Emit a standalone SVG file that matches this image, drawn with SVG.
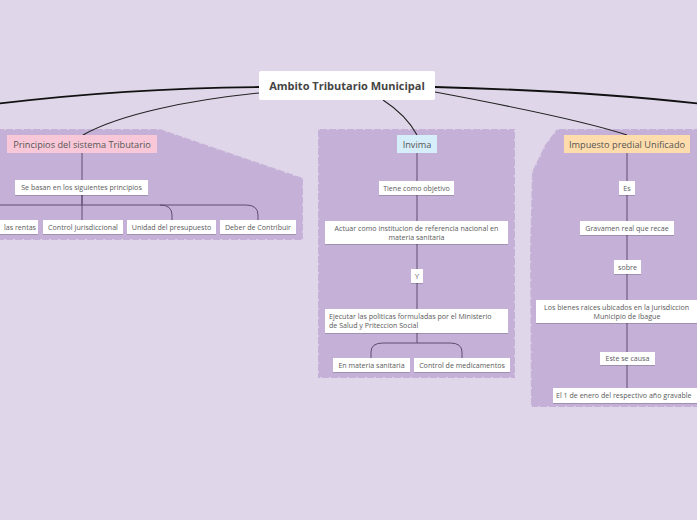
<svg xmlns="http://www.w3.org/2000/svg" width="697" height="520" viewBox="0 0 697 520">
<defs>
<filter id="sh" x="-10%" y="-20%" width="120%" height="150%"><feDropShadow dx="0" dy="1" stdDeviation="0.6" flood-color="#000" flood-opacity="0.18"/></filter>
</defs>
<style>
.region{fill:#c5b1d7;stroke:#ddd2e7;stroke-width:2;stroke-dasharray:2 7}
.box{fill:#ffffff;filter:url(#sh)}
.t{font-family:"Open Sans","Liberation Sans",sans-serif;font-size:7.1px;fill:#5a5a5a}
.tm{font-family:"Open Sans","Liberation Sans",sans-serif;font-size:9.2px;fill:#555}
.main{fill:none;stroke:#111;stroke-width:1.8}
.sub{fill:none;stroke:#222;stroke-width:1.1}
.tree{fill:none;stroke:#5e4d6e;stroke-width:1}
</style>
<rect width="697" height="520" fill="#e0d6ea"/>
<g id="regions">
<path class="region" d="M-5,129 L160,129 L303,178 L303,240 L-5,240 Z"/>
<path class="region" d="M318,129 L515,129 L515,378 L318,378 Z"/>
<path class="region" d="M557,129 L702,129 L702,407 L531,407 L530,250 L532,172 L545,145 Z"/>
</g>
<g id="connectors">
<path class="main" d="M259,87 C150,88 60,96 -5,104"/>
<path class="main" d="M435,87 C550,90 640,97 702,104"/>
<path class="sub" d="M259,93 C190,100 120,114 83,135"/>
<path class="sub" d="M383,100 C400,111 410,122 417,135"/>
<path class="sub" d="M435,92 C510,106 585,121 627,135"/>
<path class="tree" d="M82,153 V220"/>
<path class="tree" d="M82,195 V205 H-10"/>
<path class="tree" d="M82,205 H160 Q172,205 172,215 V220"/>
<path class="tree" d="M160,205 H246 Q258,205 258,215 V220"/>
<path class="tree" d="M417,153 V343"/>
<path class="tree" d="M417,343 H383 Q371,343 371,352 V358"/>
<path class="tree" d="M417,343 H450 Q462,343 462,352 V358"/>
<path class="tree" d="M627,153 V389"/>
</g>
<g id="center">
<rect x="259" y="71" width="176" height="29" rx="2" fill="#fff"/>
<text x="347" y="90" text-anchor="middle" font-family="'Open Sans','Liberation Sans',sans-serif" font-size="11" font-weight="bold" fill="#444">Ambito Tributario Municipal</text>
</g>
<g id="principios">
<rect x="7" y="135" width="150" height="18" fill="#f8c8d8"/>
<text class="tm" x="82" y="147.5" text-anchor="middle">Principios del sistema Tributario</text>
</g>
<g id="se-basan">
<rect class="box" x="15" y="180" width="133" height="15"/>
<text class="t" x="81.5" y="190" text-anchor="middle">Se basan en los siguientes principios</text>
</g>
<g id="rentas">
<rect class="box" x="-20" y="220" width="58" height="14"/>
<text class="t" x="36" y="229.5" text-anchor="end">las rentas</text>
</g>
<g id="control-jurisdiccional">
<rect class="box" x="43" y="220" width="80" height="14"/>
<text class="t" x="83" y="229.5" text-anchor="middle">Control Jurisdiccional</text>
</g>
<g id="unidad">
<rect class="box" x="127" y="220" width="89" height="14"/>
<text class="t" x="171.5" y="229.5" text-anchor="middle">Unidad del presupuesto</text>
</g>
<g id="deber">
<rect class="box" x="220" y="220" width="76" height="14"/>
<text class="t" x="258" y="229.5" text-anchor="middle">Deber de Contribuir</text>
</g>
<g id="invima">
<rect x="397" y="135" width="40" height="18" fill="#d5eefa"/>
<text class="tm" x="417" y="147.5" text-anchor="middle">Invima</text>
</g>
<g id="tiene">
<rect class="box" x="379" y="181" width="75" height="14"/>
<text class="t" x="416.5" y="190.5" text-anchor="middle">Tiene como objetivo</text>
</g>
<g id="actuar">
<rect class="box" x="325" y="221" width="183" height="23"/>
<text class="t" x="416.5" y="230.5" text-anchor="middle">Actuar como institucion de referencia nacional en</text>
<text class="t" x="416.5" y="239.5" text-anchor="middle">materia sanitaria</text>
</g>
<g id="y">
<rect class="box" x="411" y="269" width="12" height="14"/>
<text class="t" x="417" y="278.5" text-anchor="middle">Y</text>
</g>
<g id="ejecutar">
<rect class="box" x="325" y="309" width="183" height="24"/>
<text class="t" x="329" y="318.5">Ejecutar las politicas formuladas por el Ministerio</text>
<text class="t" x="329" y="328">de Salud y Priteccion Social</text>
</g>
<g id="en-materia">
<rect class="box" x="333" y="358" width="77" height="14"/>
<text class="t" x="371.5" y="367.5" text-anchor="middle">En materia sanitaria</text>
</g>
<g id="control-medicamentos">
<rect class="box" x="414" y="358" width="96" height="14"/>
<text class="t" x="462" y="367.5" text-anchor="middle">Control de medicamentos</text>
</g>
<g id="impuesto">
<rect x="564" y="135" width="126" height="18" fill="#fedcab"/>
<text class="tm" x="627" y="147.5" text-anchor="middle">Impuesto predial Unificado</text>
</g>
<g id="es">
<rect class="box" x="619" y="181" width="16" height="14"/>
<text class="t" x="627" y="190.5" text-anchor="middle">Es</text>
</g>
<g id="gravamen">
<rect class="box" x="580" y="221" width="94" height="14"/>
<text class="t" x="627" y="230.5" text-anchor="middle">Gravamen real que recae</text>
</g>
<g id="sobre">
<rect class="box" x="614" y="260" width="27" height="14"/>
<text class="t" x="627.5" y="269.5" text-anchor="middle">sobre</text>
</g>
<g id="bienes">
<rect class="box" x="536" y="300" width="180" height="23"/>
<text class="t" x="544" y="309.5">Los bienes raices ubicados en la Jurisdiccion</text>
<text class="t" x="627" y="318.5" text-anchor="middle">Municipio de Ibague</text>
</g>
<g id="causa">
<rect class="box" x="600" y="352" width="55" height="13"/>
<text class="t" x="627.5" y="361" text-anchor="middle">Este se causa</text>
</g>
<g id="enero">
<rect class="box" x="553" y="388" width="160" height="15"/>
<text class="t" x="556" y="398">El 1 de enero del respectivo año  gravable</text>
</g>
</svg>
